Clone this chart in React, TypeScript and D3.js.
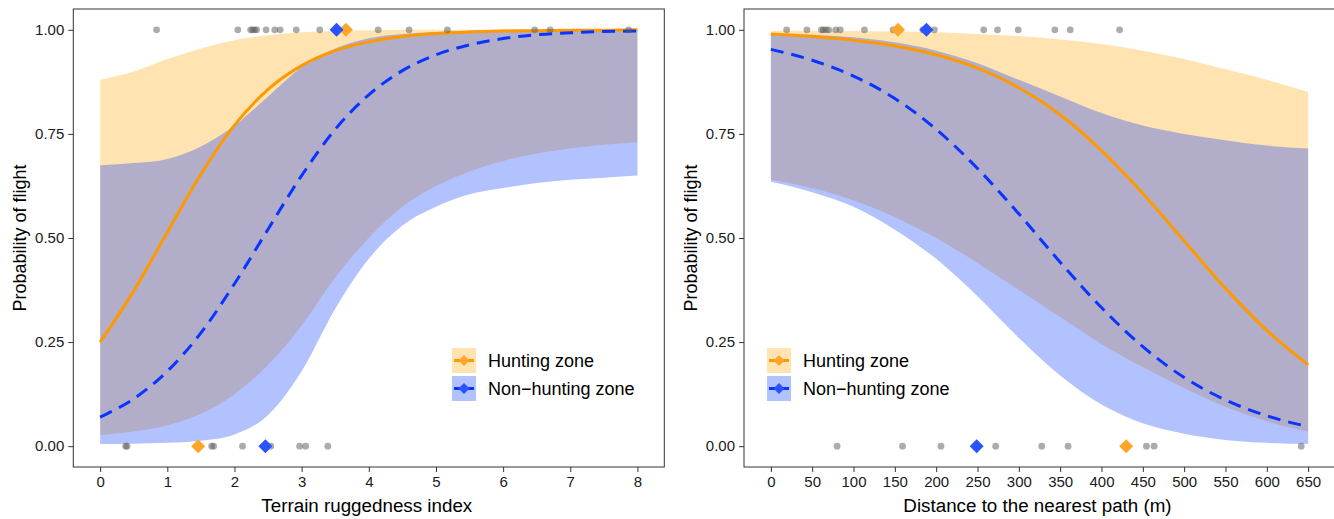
import React, { useEffect, useRef } from 'react';
import * as d3 from 'd3';

// ---- left panel: terrain ruggedness index ----
const ruggedX = [0, 0.5, 1, 1.5, 2, 2.5, 3, 3.5, 4, 4.5, 5, 5.5, 6, 6.5, 7, 7.5, 8];
const ruggedHuntFit = [0.25, 0.373, 0.514, 0.653, 0.771, 0.857, 0.914, 0.95, 0.971, 0.984, 0.991, 0.995, 0.997, 0.998, 0.999, 0.999, 1.0];
const ruggedHuntLo = [0.027, 0.035, 0.05, 0.078, 0.125, 0.195, 0.29, 0.405, 0.5, 0.575, 0.625, 0.66, 0.685, 0.703, 0.715, 0.724, 0.73];
const ruggedHuntHi = [0.88, 0.9, 0.93, 0.955, 0.975, 0.987, 0.994, 0.997, 0.999, 1, 1, 1, 1, 1, 1, 1, 1];
const ruggedNonFit = [0.07, 0.114, 0.18, 0.272, 0.39, 0.521, 0.65, 0.761, 0.844, 0.902, 0.94, 0.964, 0.979, 0.988, 0.993, 0.996, 0.997];
const ruggedNonLo = [0.005, 0.006, 0.008, 0.013, 0.028, 0.075, 0.18, 0.33, 0.45, 0.53, 0.575, 0.605, 0.62, 0.632, 0.64, 0.645, 0.65];
const ruggedNonHi = [0.675, 0.68, 0.69, 0.72, 0.77, 0.84, 0.91, 0.955, 0.98, 0.99, 0.995, 0.998, 1, 1, 1, 1, 1];
const ruggedFled = [0.84, 2.05, 2.24, 2.27, 2.3, 2.33, 2.47, 2.6, 2.68, 2.92, 3.27, 4.14, 4.6, 5.17, 6.47, 6.7, 7.87];
const ruggedStayed = [0.38, 0.4, 1.66, 1.69, 2.12, 2.54, 2.97, 3.06, 3.39];
const ruggedHuntMeans = [1.46, 3.66]; // mean x for outcome 0, 1
const ruggedNonMeans = [2.46, 3.52];
const ruggedTicks = [0, 1, 2, 3, 4, 5, 6, 7, 8];

// ---- right panel: distance to nearest path ----
const distX = [0, 50, 100, 150, 200, 250, 300, 350, 400, 450, 500, 550, 600, 650];
const distHuntFit = [0.99, 0.984, 0.975, 0.961, 0.94, 0.908, 0.861, 0.796, 0.71, 0.607, 0.493, 0.379, 0.278, 0.195];
const distHuntLo = [0.64, 0.62, 0.59, 0.55, 0.5, 0.44, 0.375, 0.31, 0.245, 0.19, 0.14, 0.095, 0.06, 0.035];
const distHuntHi = [0.998, 0.998, 0.997, 0.996, 0.994, 0.99, 0.985, 0.977, 0.966, 0.95, 0.93, 0.905, 0.88, 0.851];
const distNonFit = [0.953, 0.927, 0.889, 0.835, 0.761, 0.667, 0.558, 0.442, 0.333, 0.239, 0.165, 0.111, 0.073, 0.047];
const distNonLo = [0.635, 0.61, 0.575, 0.52, 0.45, 0.36, 0.26, 0.17, 0.1, 0.055, 0.03, 0.015, 0.008, 0.005];
const distNonHi = [0.99, 0.988, 0.982, 0.97, 0.95, 0.92, 0.88, 0.84, 0.8, 0.77, 0.75, 0.735, 0.722, 0.715];
const distFled = [19.1, 43.6, 61.2, 63.5, 66.8, 70, 78.4, 84, 113.2, 147.8, 183.9, 197.8, 257.5, 274.2, 299.2, 343.6, 362.2, 421.9];
const distStayed = [80.1, 159.3, 205.8, 272, 327.7, 359.6, 454.4, 463.6, 641.6];
const distHuntMeans = [429.9, 153.8];
const distNonMeans = [249, 188.2];
const distTicks = [0, 50, 100, 150, 200, 250, 300, 350, 400, 450, 500, 550, 600, 650];

const yTicks = [0, 0.25, 0.5, 0.75, 1];
const legendLabels = ['Hunting zone', 'Non\u2212hunting zone'];

const ORANGE = '#ff9900';
const BLUE = '#0a35ff';
const ORANGE_FILL = '#ffa500';
const BLUE_FILL = '#0033ff';
const FONT = '"Liberation Sans", Arial, Helvetica, sans-serif';

interface Panel {
  left: number;
  right: number;
  domain: [number, number];
  xs: number[];
  huntFit: number[]; huntLo: number[]; huntHi: number[];
  nonFit: number[]; nonLo: number[]; nonHi: number[];
  fled: number[]; stayed: number[];
  huntMeans: number[]; nonMeans: number[];
  ticks: number[];
  xTitle: string;
  legendX: number;
}

const panels: Panel[] = [
  {
    left: 73.3, right: 664.3, domain: [-0.4, 8.4], xs: ruggedX,
    huntFit: ruggedHuntFit, huntLo: ruggedHuntLo, huntHi: ruggedHuntHi,
    nonFit: ruggedNonFit, nonLo: ruggedNonLo, nonHi: ruggedNonHi,
    fled: ruggedFled, stayed: ruggedStayed,
    huntMeans: ruggedHuntMeans, nonMeans: ruggedNonMeans,
    ticks: ruggedTicks, xTitle: 'Terrain ruggedness index', legendX: 452,
  },
  {
    left: 744, right: 1335, domain: [-32.5, 682.5], xs: distX,
    huntFit: distHuntFit, huntLo: distHuntLo, huntHi: distHuntHi,
    nonFit: distNonFit, nonLo: distNonLo, nonHi: distNonHi,
    fled: distFled, stayed: distStayed,
    huntMeans: distHuntMeans, nonMeans: distNonMeans,
    ticks: distTicks, xTitle: 'Distance to the nearest path (m)', legendX: 767,
  },
];

const TOP = 9;
const BOTTOM = 467;

const diamond = (cx: number, cy: number, r: number) =>
  `M${cx},${cy - r}L${cx + r},${cy}L${cx},${cy + r}L${cx - r},${cy}Z`;

const App: React.FC = () => {
  const svgRef = useRef<SVGSVGElement>(null);

  useEffect(() => {
    if (!svgRef.current) return;
    const svg = d3.select(svgRef.current);
    svg.selectAll('*').remove();

    const y = d3.scaleLinear().domain([-0.05, 1.05]).range([BOTTOM, TOP]);

    panels.forEach((p) => {
      const x = d3.scaleLinear().domain(p.domain).range([p.left, p.right]);
      const g = svg.append('g');

      // confidence bands: hunting first, non-hunting on top
      const band = (lo: number[], hi: number[]) =>
        d3.area<number>()
          .x((_, i) => x(p.xs[i]))
          .y0((_, i) => y(lo[i]))
          .y1((_, i) => y(hi[i]))
          .curve(d3.curveMonotoneX)(p.xs) as string;

      g.append('path').attr('d', band(p.huntLo, p.huntHi))
        .attr('fill', ORANGE_FILL).attr('fill-opacity', 0.3);
      g.append('path').attr('d', band(p.nonLo, p.nonHi))
        .attr('fill', BLUE_FILL).attr('fill-opacity', 0.3);

      // fitted curves
      const line = (vals: number[]) =>
        d3.line<number>()
          .x((_, i) => x(p.xs[i]))
          .y((_, i) => y(vals[i]))
          .curve(d3.curveMonotoneX)(p.xs) as string;

      g.append('path').attr('d', line(p.huntFit))
        .attr('fill', 'none').attr('stroke', ORANGE).attr('stroke-width', 3);
      g.append('path').attr('d', line(p.nonFit))
        .attr('fill', 'none').attr('stroke', BLUE).attr('stroke-width', 3)
        .attr('stroke-dasharray', '13,8');

      // raw observations
      const obs = [
        ...p.fled.map((v) => ({ x: v, y: 1 })),
        ...p.stayed.map((v) => ({ x: v, y: 0 })),
      ];
      g.selectAll('circle.obs').data(obs).enter().append('circle')
        .attr('class', 'obs')
        .attr('cx', (d) => x(d.x)).attr('cy', (d) => y(d.y))
        .attr('r', 3.4)
        .attr('fill', '#5a5a5a').attr('fill-opacity', 0.5);

      // group means
      p.huntMeans.forEach((m, i) => {
        g.append('path').attr('d', diamond(x(m), y(i), 7)).attr('fill', '#ffa628');
      });
      p.nonMeans.forEach((m, i) => {
        g.append('path').attr('d', diamond(x(m), y(i), 7)).attr('fill', '#2a52ff');
      });

      // panel border
      g.append('rect')
        .attr('x', p.left).attr('y', TOP)
        .attr('width', p.right - p.left).attr('height', BOTTOM - TOP)
        .attr('fill', 'none').attr('stroke', '#333').attr('stroke-width', 1);

      // x axis
      const xa = g.append('g').attr('transform', `translate(0,${BOTTOM})`)
        .call(d3.axisBottom(x).tickValues(p.ticks).tickSize(5).tickPadding(4).tickFormat(d3.format('d')));
      xa.select('.domain').remove();
      xa.selectAll('line').attr('stroke', '#333');
      xa.selectAll('text').attr('font-family', FONT).attr('font-size', 15).attr('fill', '#1a1a1a');

      // y axis
      const ya = g.append('g').attr('transform', `translate(${p.left},0)`)
        .call(d3.axisLeft(y).tickValues(yTicks).tickSize(5).tickPadding(4).tickFormat(d3.format('.2f')));
      ya.select('.domain').remove();
      ya.selectAll('line').attr('stroke', '#333');
      ya.selectAll('text').attr('font-family', FONT).attr('font-size', 15).attr('fill', '#1a1a1a');

      // titles
      g.append('text')
        .attr('x', (p.left + p.right) / 2 - 2).attr('y', 512)
        .attr('text-anchor', 'middle').attr('font-family', FONT).attr('font-size', 18.8)
        .attr('fill', '#000').text(p.xTitle);
      g.append('text')
        .attr('transform', `translate(${p.left - 47},${(TOP + BOTTOM) / 2}) rotate(-90)`)
        .attr('text-anchor', 'middle').attr('font-family', FONT).attr('font-size', 18)
        .attr('fill', '#000').text('Probability of flight');

      // legend
      const keys = [
        { fill: ORANGE_FILL, line: ORANGE, pt: '#ffa628' },
        { fill: BLUE_FILL, line: BLUE, pt: '#2a52ff' },
      ];
      keys.forEach((k, i) => {
        const ky = 348 + i * 28;
        const lg = g.append('g');
        lg.append('rect').attr('x', p.legendX).attr('y', ky).attr('width', 24).attr('height', 25)
          .attr('fill', k.fill).attr('fill-opacity', 0.3);
        lg.append('line').attr('x1', p.legendX + 2).attr('x2', p.legendX + 22)
          .attr('y1', ky + 12.5).attr('y2', ky + 12.5)
          .attr('stroke', k.line).attr('stroke-width', 3);
        lg.append('path').attr('d', diamond(p.legendX + 12, ky + 12.5, 5.5)).attr('fill', k.pt);
        lg.append('text').attr('x', p.legendX + 36).attr('y', ky + 12.5)
          .attr('dy', '0.35em').attr('font-family', FONT).attr('font-size', 18)
          .attr('fill', '#000').text(legendLabels[i]);
      });
    });
  }, []);

  return (
    <svg
      ref={svgRef}
      width={1334}
      height={519}
      style={{ position: 'absolute', left: 0, top: 0, display: 'block', background: '#fff' }}
    />
  );
};

export default App;
